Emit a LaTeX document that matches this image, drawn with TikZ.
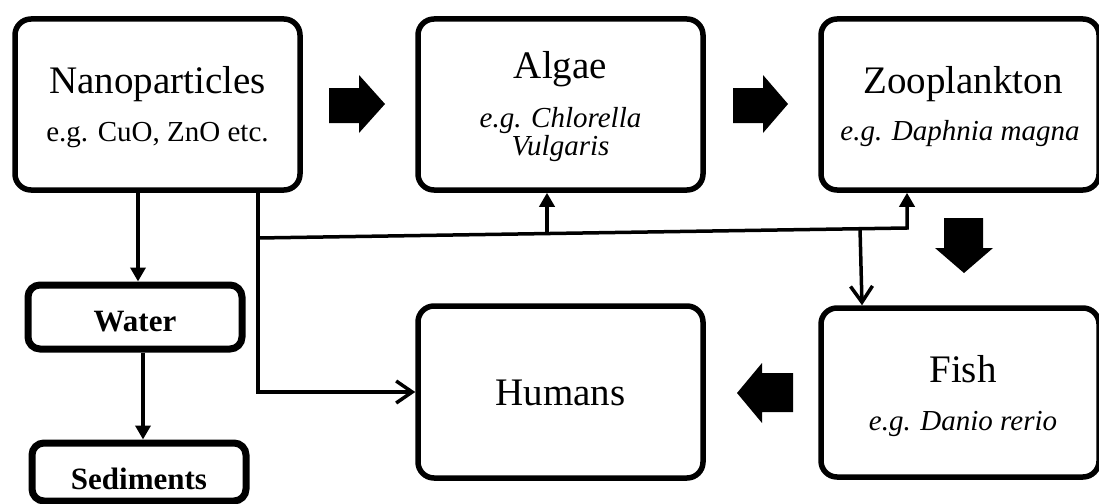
\documentclass[tikz,border=0pt]{standalone}
\usepackage{fontspec}
\setmainfont{Liberation Serif}
\usetikzlibrary{arrows.meta,calc}

\begin{document}
\begin{tikzpicture}[x=1pt,y=-1pt,
  box/.style={draw, line width=5.5pt, rounded corners=16pt,
    minimum width=285pt, minimum height=171pt, inner sep=0pt},
  smallbox/.style={draw, line width=7pt, rounded corners=12pt,
    minimum width=214pt, inner sep=0pt},
  title/.style={anchor=base, inner sep=0pt, font=\fontsize{39}{44}\selectfont},
  subtitle/.style={anchor=base, inner sep=0pt, font=\fontsize{29}{33}\selectfont},
  boldlabel/.style={anchor=base, inner sep=0pt, font=\fontsize{31}{35}\selectfont\bfseries},
  conn/.style={line width=3.5pt},
  tri/.style={conn, -{Triangle[width=15pt,length=14pt]}},
  barb/.style={conn, -{Straight Barb[width=22pt,length=16pt]}},
  block/.style={fill=black}
]
\useasboundingbox (0,0) rectangle (1099,503);

% boxes
\node[box] (nano) at (157.5,104.5) {};
\node[box] (algae) at (560.5,104.5) {};
\node[box, minimum width=278pt] (zoo) at (960,104.5) {};
\node[box, minimum width=278pt, minimum height=169pt] (fish) at (960,392.5) {};
\node[box, minimum height=172pt] (humans) at (560.5,392) {};
\node[smallbox, minimum height=64pt] (water) at (135,317) {};
\node[smallbox, minimum height=58pt] (sed) at (139,472) {};

% labels
\node[title] (nanoT) at (157.5,93) {Nanoparticles};
\node[subtitle] (nanoS) at (157.5,141) {e.g. CuO, ZnO etc.};
\node[title] (algaeT) at (560.5,78) {Algae};
\node[subtitle] (algaeS) at (560.5,127) {\itshape e.g. Chlorella};
\node[subtitle] (algaeS2) at (560.5,155) {\itshape Vulgaris};
\node[title] (zooT) at (963,93) {Zooplankton};
\node[subtitle] (zooS) at (960,140) {\itshape e.g. Daphnia magna};
\node[title] (fishT) at (963,382) {Fish};
\node[subtitle] (fishS) at (963,430) {\itshape e.g. Danio rerio};
\node[title] (humT) at (560.5,405) {Humans};
\node[boldlabel] (waterT) at (135,331) {Water};
\node[boldlabel] (sedT) at (139,489) {Sediments};

% thin connectors
\coordinate (split) at (258,238);
\coordinate (zooIn) at (907,228);
\coordinate (algaeJ) at ($(split)!0.4453!(zooIn)$);
\coordinate (fishJ) at ($(split)!0.9276!(zooIn)$);

\draw[tri] ([xshift=-19.5pt]nano.south) -- ([xshift=3pt]water.north);
\draw[tri] ([xshift=8pt]water.south) -- ([xshift=4pt]sed.north);
\draw[barb] (nano.south -| split) -- (split |- humans.west) -- (humans.west);
\draw[tri] (split) -- (zooIn) -- (zooIn |- zoo.south);
\draw[tri] (algaeJ) -- (algaeJ |- algae.south);
\draw[barb] (fishJ) -- ([xshift=2pt]fishJ |- fish.north);

% block arrows along the food chain
\fill[block] (329,88) -- (359,88) -- (359,75) -- (385,104) -- (359,133) -- (359,123) -- (329,123) -- cycle;
\fill[block] (733,88) -- (763,88) -- (763,75) -- (788,104) -- (763,133) -- (763,123) -- (733,123) -- cycle;
\fill[block] (944,218) -- (983,218) -- (983,248) -- (993,248) -- (964,273) -- (935,248) -- (944,248) -- cycle;
\fill[block] (793,373) -- (762,373) -- (762,363) -- (737,393) -- (762,423) -- (762,412) -- (793,412) -- cycle;
\end{tikzpicture}
\end{document}
